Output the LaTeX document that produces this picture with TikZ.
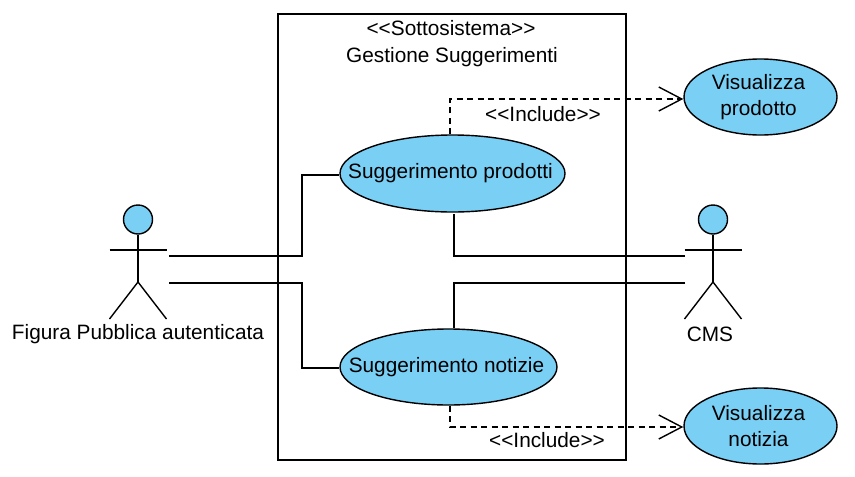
\documentclass[tikz,border=0pt]{standalone}
\usepackage{fontspec}
\setmainfont{Liberation Sans}
\usetikzlibrary{arrows.meta,shapes.geometric,calc}
\definecolor{ucblue}{RGB}{122,207,245}
\newcommand{\ucpad}{\kern4pt}
\tikzset{
  line/.style={line width=1.4pt,black},
  usecase/.style={ellipse,draw,line,fill=ucblue,inner xsep=-40pt,inner ysep=-15pt,align=center,font=\fontsize{20.8}{26}\selectfont},
  label/.style={inner sep=0pt,font=\fontsize{20.8}{26}\selectfont},
  include/.style={line,dashed,dash pattern=on 6pt off 4.5pt,-{Straight Barb[length=23pt,width=24pt,line width=1.4pt]}}
}
\begin{document}
\begin{tikzpicture}[x=1pt,y=-1pt]
  \useasboundingbox (0,0) rectangle (855,477);
  % system box
  \node[draw,line,minimum width=348pt,minimum height=446pt,inner sep=0pt] (box) at (452,237) {};
  \node[label] (boxstereo) at (451,28) {<{}<Sottosistema>{}>};
  \node[label] (boxname) at (452,57) {Gestione Suggerimenti};
  % actors
  \foreach \a/\x in {fig/138,cms/713} {
    \node[circle,draw,line,fill=ucblue,minimum size=29pt,inner sep=0pt] (\a) at (\x,219.5) {};
    \coordinate (\a hip) at (\x,282);
    \coordinate (\a armL) at (\x-28.5,250);
    \coordinate (\a armR) at (\x+28.5,250);
    \coordinate (\a footL) at (\x-28.5,319);
    \coordinate (\a footR) at (\x+28.5,319);
    \draw[line] (\a) -- (\a hip);
    \draw[line] (\a armL) -- (\a armR);
    \draw[line] (\a footL) -- (\a hip) -- (\a footR);
  }
  \node[label] (figlabel) at (138,334) {Figura Pubblica autenticata};
  \node[label] (cmslabel) at (710,334) {CMS};
  % use cases
  \node[usecase,minimum width=225pt,minimum height=77pt] (prodotti) at (452.5,173.5) {Suggerimento prodotti\ucpad};
  \node[usecase,minimum width=217pt,minimum height=76pt] (notizie) at (448.5,367) {Suggerimento notizie\ucpad};
  \node[usecase,minimum width=153pt,minimum height=76pt] (visprod) at (760.5,97) {Visualizza\ucpad\\prodotto\ucpad};
  \node[usecase,minimum width=153pt,minimum height=76pt] (visnot) at (760.5,426) {Visualizza\ucpad\\notizia\ucpad};
  % free ends
  \coordinate (figA) at (169,256);
  \coordinate (figB) at (169,283);
  \coordinate (cmsA) at (685,256);
  \coordinate (cmsB) at (685,283);
  % associations
  \draw[line] (figA) -- (302,256) |- ($(prodotti.west)+(0,1.5)$);
  \draw[line] (figB) -- (302,283) |- ($(notizie.west)+(0,1)$);
  \draw[line] (cmsA) -| ($(prodotti.south)+(1.5,1.5)$);
  \draw[line] (cmsB) -| ($(notizie.north)+(5.5,0)$);
  % includes
  \draw[include] ($(prodotti.north)+(-2.5,0)$) |- ($(visprod.west)+(0,2)$);
  \draw[include] ($(notizie.south)+(1.5,0)$) |- ($(visnot.west)+(0,1)$);
  \node[label] (inclA) at (543,114) {<{}<Include>{}>};
  \node[label] (inclB) at (547,440) {<{}<Include>{}>};
\end{tikzpicture}
\end{document}
